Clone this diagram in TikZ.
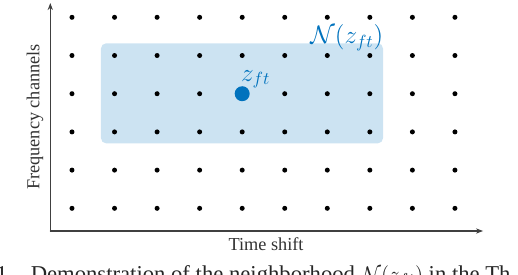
\documentclass[tikz,border=0pt]{standalone}
\usepackage{amsmath, amssymb}
\usepackage{fontspec}
\setmainfont{Liberation Serif}
\usepackage{xcolor}
\definecolor{matblu}{HTML}{0072BD}
\usepackage{tikz}
\usetikzlibrary{arrows.meta,positioning}

\tikzset{
  etichetta/.style={text=black!80, font=\fontsize{10.4}{12}\selectfont},
  punto/.style={fill=black},
}

\begin{document}
\begin{tikzpicture}[>={Stealth[length=4pt,width=3pt]}, line cap=round, line join=round, x=0.851cm, y=0.764cm]

\useasboundingbox (-1.692,-1.720) rectangle (10.482,5.453);

% Intorno
\fill[matblu!20, rounded corners=3pt] (0.68,1.70) rectangle (7.31,4.32);

% Assi
\coordinate (O) at (-0.51,-0.594);
\coordinate (ytop) at (-0.51,5.374);
\coordinate (xend) at (9.66,-0.594);
\draw[->, black!75, line width=0.6pt] (O) -- (ytop);
\draw[->, black!75, line width=0.6pt] (O) -- (xend);

% Griglia di punti
\foreach \i in {0,...,9}
  \foreach \j in {0,...,5}
    \fill[punto] (\i,\j) circle (0.05cm);

% Punto centrale
\fill[matblu] (4,3) circle (0.15cm);
\node[matblu, font=\Large] (zft) at (4.32,3.38) {$z_{ft}$};
\node[matblu, font=\Large] (nzft) at (6.46,4.46) {$\mathcal{N}(z_{ft})$};

% Etichette
\node[etichetta, rotate=90] (freq) at (-0.87,2.39) {Frequency channels};
\node[etichetta] (tempo) at (4.56,-0.935) {Time shift};

% Didascalia
\node[anchor=base west, inner sep=0pt, text=black!85, font=\fontsize{12.9}{15}\selectfont] (cap) at (-1.79,-1.91)
  {1.\hspace{10pt}Demonstration of the neighborhood $\mathcal{N}(z_{ft})$ in the Th};

\end{tikzpicture}
\end{document}
